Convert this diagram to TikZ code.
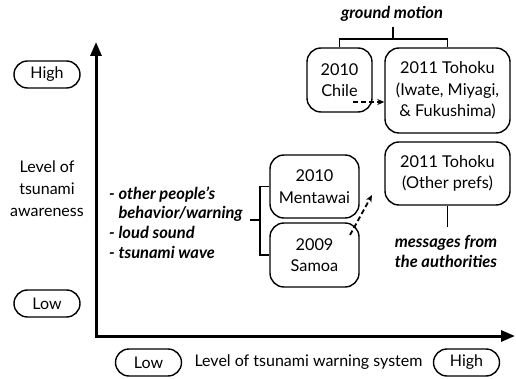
\documentclass[tikz,border=0pt]{standalone}
\usepackage{fontspec}
\setmainfont{Lato}
\usetikzlibrary{arrows.meta,shapes.misc}
\begin{document}
\begin{tikzpicture}[x=1pt,y=-1pt,
  box/.style={draw, line width=1.4pt, rounded corners=14pt, align=center,
    font=\fontsize{16.3}{21.5}\selectfont, inner sep=0pt},
  pill/.style={draw, line width=1.4pt, rounded rectangle, minimum width=66pt,
    minimum height=27pt, inner sep=0pt, font=\fontsize{16}{20}\selectfont},
  lbl/.style={font=\fontsize{16}{22}\selectfont, align=center, inner sep=0pt},
  emph/.style={font=\fontsize{16.5}{19.7}\selectfont\bfseries\itshape, inner sep=0pt},
  conn/.style={line width=1.4pt},
  dasharrow/.style={line width=1.8pt, dash pattern=on 5pt off 3pt,
    -{Stealth[length=7pt,width=6pt]}}]
\useasboundingbox (0,0) rectangle (516,379);

% axes
\coordinate (o) at (96,336);
\coordinate (ytop) at (96,42);
\coordinate (xend) at (515,336);
\draw[line width=3pt, line join=miter,
  {Triangle[length=14pt,width=11pt]}-{Triangle[length=14pt,width=11pt]}]
  (ytop) -- (o) -- (xend);

% axis labels
\node[pill] (yhigh) at (47,74.5) {High};
\node[pill] (ylow) at (47,303.5) {Low};
\node[lbl] (ylabel) at (47,189) {Level of\\tsunami\\awareness};
\node[pill] (xlow) at (148.5,362.5) {Low};
\node[pill] (xhigh) at (466.5,362.5) {High};
\node[lbl] (xlabel) at (308.5,362.5) {Level of tsunami warning system};

% boxes
\node[box, minimum width=65pt, minimum height=64pt] (chile) at (339.5,80) {2010\\Chile};
\node[box, minimum width=125pt, minimum height=85pt] (toh1) at (447.5,90.5)
  {2011 Tohoku\\(Iwate, Miyagi,\\\& Fukushima)};
\node[box, minimum width=125pt, minimum height=63pt] (toh2) at (447.5,173.5)
  {2011 Tohoku\\(Other prefs)};
\node[box, minimum width=89pt, minimum height=63pt] (ment) at (314.5,186.5) {2010\\Mentawai};
\node[box, minimum width=89pt, minimum height=64pt] (samoa) at (314.5,255) {2009\\Samoa};

% ground motion bracket
\node[emph] (gm) at (392,14) {ground motion};
\coordinate (gmstub) at (393,27);
\coordinate (gmbar) at (393,39);
\draw[conn] (chile.north) -- (chile.north |- gmbar) -- (toh1.north |- gmbar) -- (toh1.north);
\draw[conn] (gmstub) -- (gmbar);

% left bracket
\node[emph, align=left, anchor=west] (cues) at (109,222.5)
  {- other people's\\\hphantom{- }behavior/warning\\- loud sound\\- tsunami wave};
\coordinate (bstub) at (250,220);
\coordinate (bbar) at (260,220);
\draw[conn] (ment.west) -| (bbar) |- (samoa.west);
\draw[conn] (bstub) -- (bbar);

% messages
\node[emph, align=center] (msg) at (446,251.5) {messages from\\the authorities};
\coordinate (msgtop) at (447.5,227);
\draw[conn] (toh2.south) -- (msgtop);

% dashed arrows
\coordinate (ca) at (353,102);
\draw[dasharrow] (ca) -- (ca -| toh1.west);
\coordinate (sa) at (350,235);
\coordinate (se) at (372,195);
\draw[dasharrow] (sa) -- (se);
\end{tikzpicture}
\end{document}
